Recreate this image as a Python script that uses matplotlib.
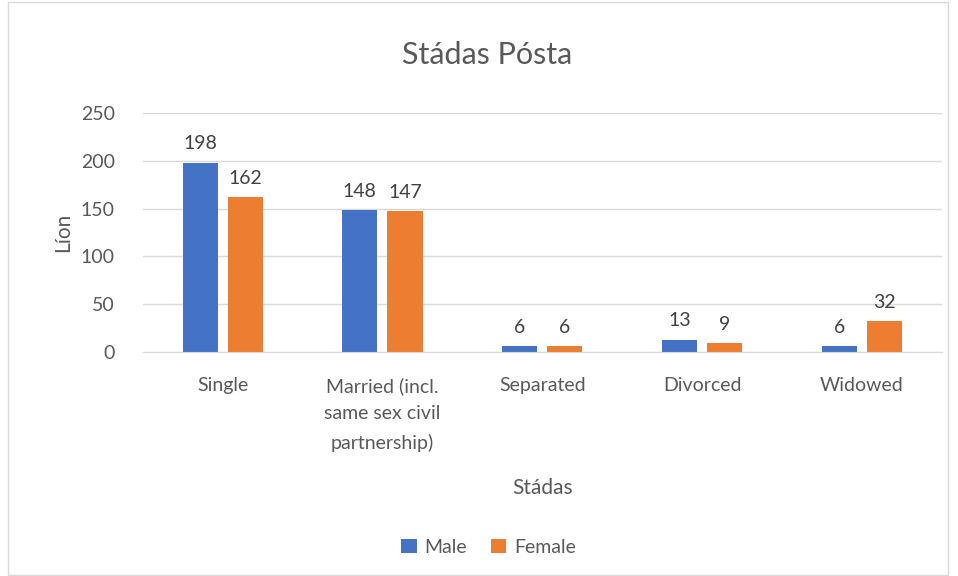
import matplotlib.pyplot as plt
import numpy as np
from matplotlib.patches import Rectangle

plt.rcParams['font.family'] = ['Lato', 'DejaVu Sans']

categories = ["Single", "Married (incl.\nsame sex civil\npartnership)", "Separated", "Divorced", "Widowed"]
male = [198, 148, 6, 13, 6]
female = [162, 147, 6, 9, 32]

txt = '#595959'
blue = '#4472C4'
orange = '#ED7D31'

fig = plt.figure(figsize=(9.58, 5.76), dpi=100)
ax = fig.add_axes([0.149, 0.389, 0.834, 0.415])

x = np.arange(len(categories))
w = 0.22
off = 0.141
b1 = ax.bar(x - off, male, w, color=blue, label='Male')
b2 = ax.bar(x + off, female, w, color=orange, label='Female')
for bars in (b1, b2):
    for r in bars:
        ax.text(r.get_x() + r.get_width() / 2, r.get_height() + 11, str(int(r.get_height())),
                ha='center', va='bottom', fontsize=14, color='#404040')

ax.set_xlim(-0.5, 4.5)
ax.set_ylim(0, 250)
ax.set_yticks(range(0, 251, 50))
ax.yaxis.grid(True, color='#D9D9D9', lw=1)
ax.set_axisbelow(True)
for s in ['top', 'right', 'left']:
    ax.spines[s].set_visible(False)
ax.spines['bottom'].set_color('#D9D9D9')
ax.tick_params(length=0, labelsize=14, colors=txt)
ax.tick_params(axis='y', pad=20)
ax.tick_params(axis='x', pad=18)
ax.set_xticks(x)
ax.set_xticklabels(categories, linespacing=1.75)

ax.set_ylabel('Líon', fontsize=15, color=txt, labelpad=6)
ax.set_xlabel('Stádas', fontsize=15, color=txt, labelpad=19)
fig.text(0.508, 0.905, 'Stádas Pósta', ha='center', va='center', fontsize=22, color=txt)

fig.legend(handles=[b1, b2], loc='center', bbox_to_anchor=(0.51, 0.05), ncol=2, frameon=False,
           fontsize=14, labelcolor=txt, handlelength=0.8, handleheight=0.8, handletextpad=0.4,
           columnspacing=1.2)

fig.patches.append(Rectangle((0.008, 0.002), 0.982, 0.995, transform=fig.transFigure,
                             fill=False, edgecolor='#D9D9D9', lw=1))

fig.savefig('out.png', dpi=100)
